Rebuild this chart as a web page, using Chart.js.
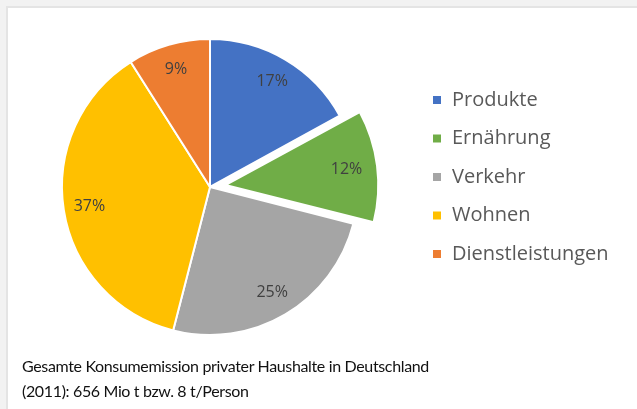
<!DOCTYPE html>
<html lang="de">
<head>
<meta charset="utf-8">
<title>Konsumemission private Haushalte</title>
<script src="https://cdn.jsdelivr.net/npm/chart.js@4.4.1/dist/chart.umd.min.js"></script>
<style>
    html, body {
        margin: 0;
        padding: 0;
        background: #f2f2f2;
        overflow: hidden;
    }
    .frame {
        position: absolute;
        left: 6px;
        top: 6px;
        width: 700px;
        height: 500px;
        background: #ffffff;
        border-left: 2px solid #e4e4e4;
        border-top: 2px solid #e4e4e4;
    }
    .chart-box {
        position: absolute;
        left: 0;
        top: 0;
        width: 637px;
        height: 409px;
    }
    .caption {
        position: absolute;
        left: 22px;
        top: 353px;
        font-family: Lato, "Open Sans", sans-serif;
        font-size: 16px;
        letter-spacing: -0.35px;
        line-height: 25px;
        color: #111111;
        white-space: nowrap;
    }
</style>
</head>
<body>
<div class="frame"></div>
<div class="chart-box"><canvas id="emissionChart"></canvas></div>
<div class="caption">
    Gesamte Konsumemission privater Haushalte in Deutschland<br>
    (2011): 656 Mio t bzw. 8 t/Person
</div>

<script>
/* ============================================
   Konsumemission Pie Chart
============================================ */

// Chart data
const categories = ['Produkte', 'Ernährung', 'Verkehr', 'Wohnen', 'Dienstleistungen'];
const shares = [17, 12, 25, 37, 9];
const sliceColors = ['#4472c4', '#70ad47', '#a5a5a5', '#ffc000', '#ed7d31'];
const explodedSlice = 'Ernährung';

/**
 * Draw percentage labels inside the slices
 */
const percentLabels = {
    id: 'percentLabels',
    afterDatasetsDraw(chart) {
        const ctx = chart.ctx;
        const meta = chart.getDatasetMeta(0);
        const values = chart.data.datasets[0].data;

        ctx.save();
        ctx.font = '16px "Open Sans", sans-serif';
        ctx.fillStyle = '#404040';
        ctx.textAlign = 'center';
        ctx.textBaseline = 'middle';

        meta.data.forEach((arc, i) => {
            const mid = (arc.startAngle + arc.endAngle) / 2;
            const shift = (arc.options.offset || 0) / 4;
            const r = arc.outerRadius * 0.825 + shift;
            const x = arc.x + Math.cos(mid) * r;
            const y = arc.y + Math.sin(mid) * r;
            ctx.fillText(values[i] + '%', x, y);
        });
        ctx.restore();
    }
};

const ctx = document.getElementById('emissionChart');

const emissionChart = new Chart(ctx, {
    type: 'pie',
    data: {
        labels: categories,
        datasets: [{
            data: shares,
            backgroundColor: sliceColors,
            borderColor: '#ffffff',
            borderWidth: 2,
            offset: categories.map(c => (c === explodedSlice ? 62 : 0)),
            hoverOffset: 0,
            radius: 148,
            clip: false,
        }]
    },
    options: {
        responsive: true,
        maintainAspectRatio: false,
        animation: false,
        layout: {
            padding: { top: 71.5, bottom: 106.5, left: 6.5, right: 23.5 }
        },
        plugins: {
            tooltip: { enabled: false },
            legend: {
                position: 'right',
                align: 'start',
                maxWidth: 200,
                labels: {
                    boxWidth: 10,
                    boxHeight: 10,
                    padding: 18.5,
                    color: '#595959',
                    font: { family: '"Open Sans", sans-serif', size: 20 }
                }
            }
        }
    },
    plugins: [percentLabels]
});
</script>
</body>
</html>
